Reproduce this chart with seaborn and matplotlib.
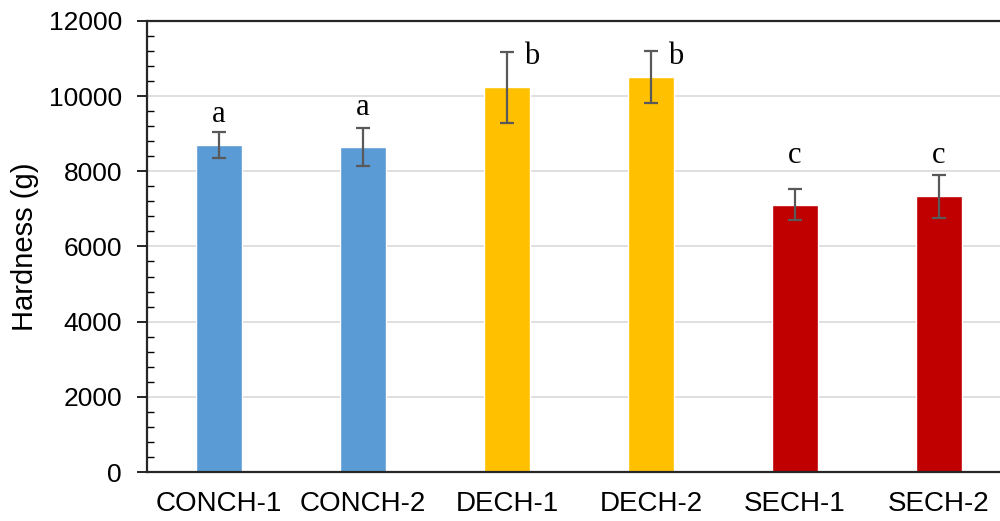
import numpy as np
import pandas as pd
import seaborn as sns
import matplotlib.pyplot as plt
from matplotlib.ticker import MultipleLocator

# data
samples = ['CONCH-1', 'CONCH-2', 'DECH-1', 'DECH-2', 'SECH-1', 'SECH-2']
hardness = [8700, 8650, 10230, 10510, 7110, 7330]
hardness_sd = [340, 510, 945, 700, 410, 565]
letters = ['a', 'a', 'b', 'b', 'c', 'c']
letter_y = [9520, 9690, 11040, 11060, 8430, 8430]
letter_dx = [0, 0, 0.17, 0.17, 0, 0]
colors = ['#5B9BD5', '#5B9BD5', '#FFC000', '#FFC000', '#C00000', '#C00000']

df = pd.DataFrame({'sample': samples, 'hardness': hardness})

sns.set_style('white')
plt.rcParams['font.family'] = ['Liberation Sans', 'DejaVu Sans']
plt.rcParams['text.color'] = 'black'
plt.rcParams['axes.labelcolor'] = 'black'
plt.rcParams['xtick.color'] = 'black'
plt.rcParams['ytick.color'] = 'black'

fig = plt.figure(figsize=(10, 5.21), dpi=100)
ax = fig.add_axes([0.147, 0.094, 0.864, 0.866])

sns.barplot(data=df, x='sample', y='hardness', hue='sample',
            palette=colors, saturation=1, width=0.315, legend=False, ax=ax)

x = np.arange(len(samples))
ax.errorbar(x, hardness, yerr=hardness_sd, fmt='none', ecolor='#595959',
            elinewidth=1.6, capsize=5, capthick=1.6, zorder=3)

for i, (lab, ly) in enumerate(zip(letters, letter_y)):
    ax.text(x[i] + letter_dx[i], ly, lab, ha='center', va='center',
            fontsize=22, family=['Liberation Serif', 'DejaVu Serif'])

ax.set_xlim(-0.5, len(samples) - 0.5)
ax.set_ylim(0, 12000)
ax.yaxis.set_major_locator(MultipleLocator(2000))
ax.yaxis.set_minor_locator(MultipleLocator(400))
ax.grid(axis='y', which='major', color='#D9D9D9', linewidth=1.2, zorder=0)
ax.set_axisbelow(True)

ax.tick_params(axis='y', which='major', direction='out', length=7, width=1.2,
               labelsize=19, pad=11, left=True)
ax.tick_params(axis='y', which='minor', direction='in', length=5, width=1.0, left=True)
ax.tick_params(axis='x', length=0, labelsize=20, pad=14)

for side in ['left', 'bottom', 'top']:
    ax.spines[side].set_color('#262626')
    ax.spines[side].set_linewidth(1.6)
ax.spines['right'].set_visible(False)

ax.set_xlabel('')
ax.set_ylabel('Hardness (g)', fontsize=21, labelpad=7)

fig.savefig('out.png', dpi=100)
